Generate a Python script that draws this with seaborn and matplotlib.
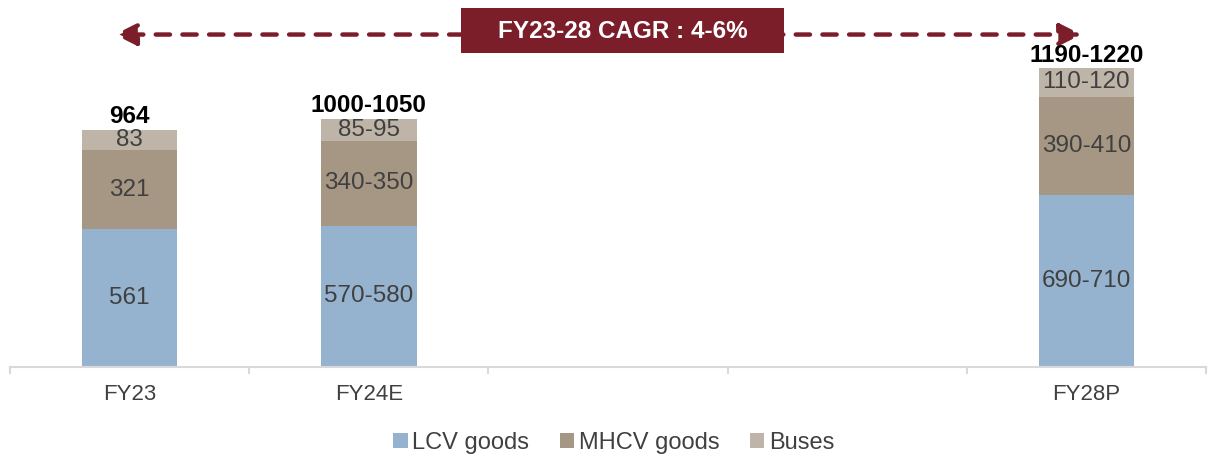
import matplotlib
matplotlib.use("Agg")
import matplotlib.pyplot as plt
from matplotlib.patches import Rectangle, Patch
import numpy as np
import pandas as pd
import seaborn as sns

# Commercial vehicle volumes ('000 units), with the two gap years left blank
slots = ["FY23", "FY24E", " ", "  ", "FY28P"]
periods = ["FY23", "FY24E", "FY28P"]
lcv_goods = [561, 575, 700]
mhcv_goods = [321, 345, 400]
buses = [83, 90, 115]
lcv_labels = ["561", "570-580", "690-710"]
mhcv_labels = ["321", "340-350", "390-410"]
bus_labels = ["83", "85-95", "110-120"]
total_labels = ["964", "1000-1050", "1190-1220"]
segments = ["LCV goods", "MHCV goods", "Buses"]
colors = ["#95B3CF", "#A69784", "#BEB5A8"]
cagr_text = "FY23-28 CAGR : 4-6%"

sns.set_theme(style="white")
plt.rcParams["font.family"] = ["Liberation Sans", "DejaVu Sans"]

df = pd.DataFrame({"period": periods, "LCV goods": lcv_goods,
                   "MHCV goods": mhcv_goods, "Buses": buses})
df["c1"] = df["LCV goods"]
df["c2"] = df["c1"] + df["MHCV goods"]
df["c3"] = df["c2"] + df["Buses"]

fig = plt.figure(figsize=(12.10, 4.57), dpi=100)
ax = fig.add_axes([10 / 1210, 1 - 367 / 457, 1196 / 1210, 367 / 457])

# stack by overdrawing cumulative totals, tallest first
for col, color in zip(["c3", "c2", "c1"], colors[::-1]):
    sns.barplot(data=df, x="period", y=col, order=slots, color=color,
                width=0.40, saturation=1, ax=ax, linewidth=0, zorder=2)

ax.set_xlim(-0.5, 4.5)
ax.set_ylim(0, 367 / 0.2459)
ax.set_xlabel("")
ax.set_ylabel("")
ax.set_yticks([])

pos = {s: i for i, s in enumerate(slots)}
seg_color = "#404040"
for i, p in enumerate(periods):
    x = pos[p]
    c1, c2, c3 = df.loc[i, ["c1", "c2", "c3"]]
    ax.text(x, c1 / 2, lcv_labels[i], ha="center", va="center",
            fontsize=17.5, color=seg_color, zorder=5)
    ax.text(x, (c1 + c2) / 2, mhcv_labels[i], ha="center", va="center",
            fontsize=17.5, color=seg_color, zorder=5)
    ax.text(x, (c2 + c3) / 2, bus_labels[i], ha="center", va="center",
            fontsize=17.5, color=seg_color, zorder=5)
    ax.annotate(total_labels[i], (x, c3), xytext=(0, 1),
                textcoords="offset points", ha="center", va="bottom",
                fontsize=17.5, fontweight="bold", color="black", zorder=5)

# category axis: labels centred, tick marks on slot boundaries
for s in ["left", "right", "top"]:
    ax.spines[s].set_visible(False)
ax.spines["bottom"].set_color("#D9D9D9")
ax.spines["bottom"].set_linewidth(1.5)
ax.set_xticks(range(len(slots)))
ax.set_xticklabels(slots, fontsize=16, color="#404040")
ax.set_xticks(np.arange(-0.5, len(slots)), minor=True)
ax.tick_params(axis="x", which="major", length=0, pad=12)
ax.tick_params(axis="x", which="minor", length=5, width=1.5,
               color="#D9D9D9", direction="out", bottom=True)

# CAGR arrow with label box
wine = "#7B1E2A"
ax.annotate("", xy=(-0.063, 1352), xytext=(3.98, 1352),
            arrowprops=dict(arrowstyle="<|-|>,head_length=1.1,head_width=0.55",
                            color=wine, lw=3.2, linestyle=(0, (3.2, 2.8)),
                            shrinkA=0, shrinkB=0),
            annotation_clip=False, zorder=3)
ax.add_patch(Rectangle((1.385, 1277), 1.351, 183, facecolor=wine,
                       edgecolor="none", zorder=4, clip_on=False))
ax.text(2.06, 1366, cagr_text, ha="center", va="center", fontsize=17.5,
        fontweight="bold", color="white", zorder=6)

handles = [Patch(facecolor=c, edgecolor="none") for c in colors]
fig.legend(handles, segments, loc="center", bbox_to_anchor=(614 / 1210, 1 - 443 / 457),
           ncol=3, frameon=False, fontsize=17, handlelength=0.6, handleheight=0.6,
           handletextpad=0.2, columnspacing=1.3, labelcolor="#404040")

fig.savefig("out.png", dpi=100)
